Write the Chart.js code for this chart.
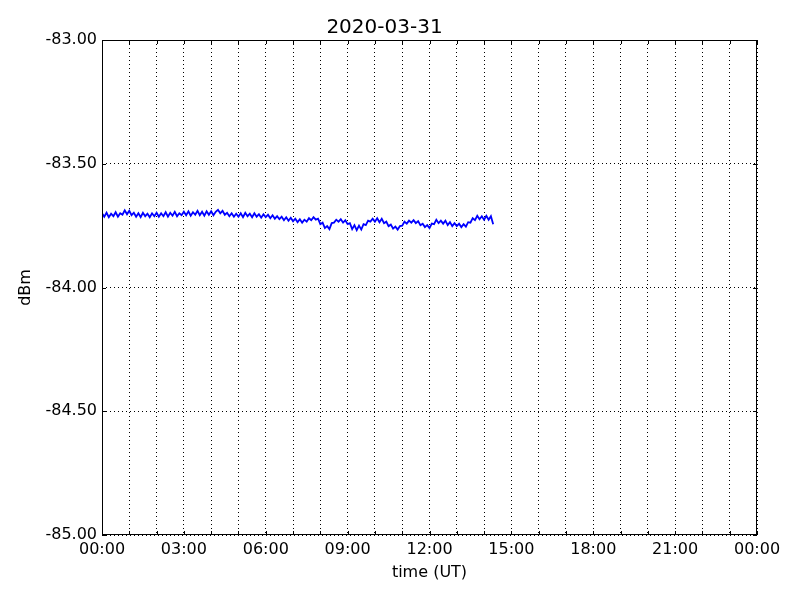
<!DOCTYPE html>
<html>
<head>
<meta charset="utf-8">
<script src="https://cdn.jsdelivr.net/npm/chart.js@4"></script>
<style>
  body { margin: 0; background: #fff; }
  canvas { display: block; }
</style>
</head>
<body>
<canvas id="grafico" width="800" height="600"></canvas>
<script>
const titulo = '2020-03-31'
const yTicks = [-85, -84.5, -84, -83.5, -83]
// minutos desde 00:00 UT, uma amostra a cada 5 min ate 14:20
const minutos = []
for (let m = 0; m <= 860; m += 5) minutos.push(m)

const dbm = [
  -83.700, -83.714, -83.698, -83.716, -83.702, -83.712, -83.696, -83.714, -83.700, -83.706, -83.688, -83.704,
  -83.690, -83.708, -83.698, -83.714, -83.700, -83.716, -83.698, -83.712, -83.702, -83.716, -83.700, -83.712,
  -83.698, -83.714, -83.700, -83.712, -83.696, -83.714, -83.698, -83.710, -83.694, -83.712, -83.700, -83.708,
  -83.694, -83.708, -83.692, -83.710, -83.696, -83.706, -83.690, -83.708, -83.694, -83.710, -83.692, -83.706,
  -83.692, -83.708, -83.694, -83.686, -83.700, -83.690, -83.706, -83.698, -83.712, -83.700, -83.714, -83.702,
  -83.714, -83.700, -83.716, -83.698, -83.712, -83.702, -83.716, -83.700, -83.714, -83.704, -83.718, -83.704,
  -83.716, -83.706, -83.720, -83.708, -83.722, -83.712, -83.724, -83.714, -83.728, -83.716, -83.730, -83.718,
  -83.732, -83.722, -83.736, -83.724, -83.738, -83.726, -83.734, -83.720, -83.728, -83.716, -83.726, -83.722,
  -83.744, -83.738, -83.760, -83.752, -83.764, -83.740, -83.738, -83.726, -83.734, -83.724, -83.738, -83.728,
  -83.744, -83.740, -83.764, -83.748, -83.768, -83.750, -83.766, -83.744, -83.748, -83.730, -83.734, -83.722,
  -83.734, -83.720, -83.736, -83.722, -83.740, -83.734, -83.752, -83.746, -83.762, -83.754, -83.766, -83.752,
  -83.750, -83.734, -83.742, -83.730, -83.738, -83.728, -83.740, -83.732, -83.748, -83.742, -83.756, -83.748,
  -83.760, -83.742, -83.744, -83.726, -83.740, -83.730, -83.742, -83.730, -83.748, -83.736, -83.752, -83.740,
  -83.752, -83.742, -83.756, -83.744, -83.754, -83.736, -83.738, -83.720, -83.728, -83.710, -83.724, -83.712,
  -83.726, -83.710, -83.726, -83.712, -83.744
]

const pontos = minutos.map((m, i) => ({ x: m, y: dbm[i] }))
const fonte = 'DejaVu Sans'

// moldura preta e tracinhos para dentro, estilo matplotlib
const moldura = {
  id: 'moldura',
  afterDraw(chart) {
    const c = chart.ctx
    const a = chart.chartArea
    c.save()
    c.strokeStyle = '#000'
    c.lineWidth = 1
    c.setLineDash([])
    c.strokeRect(a.left + 0.5, a.top + 0.5, a.right - a.left - 1, a.bottom - a.top - 1)
    c.beginPath()
    chart.scales.x.ticks.forEach(t => {
      const px = Math.round(chart.scales.x.getPixelForValue(t.value)) + 0.5
      c.moveTo(px, a.bottom); c.lineTo(px, a.bottom - 4)
      c.moveTo(px, a.top); c.lineTo(px, a.top + 4)
    })
    chart.scales.y.ticks.forEach(t => {
      const py = Math.round(chart.scales.y.getPixelForValue(t.value)) + 0.5
      c.moveTo(a.left, py); c.lineTo(a.left + 4, py)
      c.moveTo(a.right, py); c.lineTo(a.right - 4, py)
    })
    c.stroke()
    c.restore()
  }
}

new Chart(document.getElementById('grafico'), {
  type: 'line',
  data: {
    datasets: [{
      data: pontos,
      borderColor: '#0000ff',
      borderWidth: 1.8,
      pointRadius: 0,
      tension: 0,
      fill: false
    }]
  },
  options: {
    responsive: false,
    animation: false,
    devicePixelRatio: 1,
    layout: { padding: { left: 12, right: 43, top: 0, bottom: 14 } },
    plugins: {
      legend: { display: false },
      tooltip: { enabled: false },
      title: {
        display: true,
        text: titulo,
        color: '#000',
        font: { family: fonte, size: 20, weight: 'normal' },
        padding: { top: 16, bottom: 0 }
      }
    },
    scales: {
      x: {
        type: 'linear',
        min: 0,
        max: 1440,
        afterFit(s) { s.height = 51 },
        afterBuildTicks(s) {
          s.ticks = []
          for (let v = 0; v <= 1440; v += 60) s.ticks.push({ value: v })
        },
        ticks: {
          autoSkip: false,
          maxRotation: 0,
          padding: 5,
          color: '#000',
          font: { family: fonte, size: 16 },
          callback: v => v % 180 === 0 ? String((v / 60) % 24).padStart(2, '0') + ':00' : ''
        },
        grid: { color: '#000', lineWidth: 1, tickLength: 0, drawTicks: false },
        border: { display: false, dash: [1, 3] },
        title: {
          display: true,
          text: 'time (UT)',
          color: '#000',
          font: { family: fonte, size: 16 },
          padding: { top: 2, bottom: 4 }
        }
      },
      y: {
        min: yTicks[0],
        max: yTicks[yTicks.length - 1],
        afterFit(s) { s.width = 90 },
        afterBuildTicks(s) { s.ticks = yTicks.map(v => ({ value: v })) },
        ticks: {
          padding: 5,
          color: '#000',
          font: { family: fonte, size: 16 },
          callback: v => v.toFixed(2)
        },
        grid: { color: '#000', lineWidth: 1, tickLength: 0, drawTicks: false },
        border: { display: false, dash: [1, 3] },
        title: {
          display: true,
          text: 'dBm',
          color: '#000',
          font: { family: fonte, size: 16 },
          padding: { top: 4, bottom: 4 }
        }
      }
    }
  },
  plugins: [moldura]
})
</script>
</body>
</html>
